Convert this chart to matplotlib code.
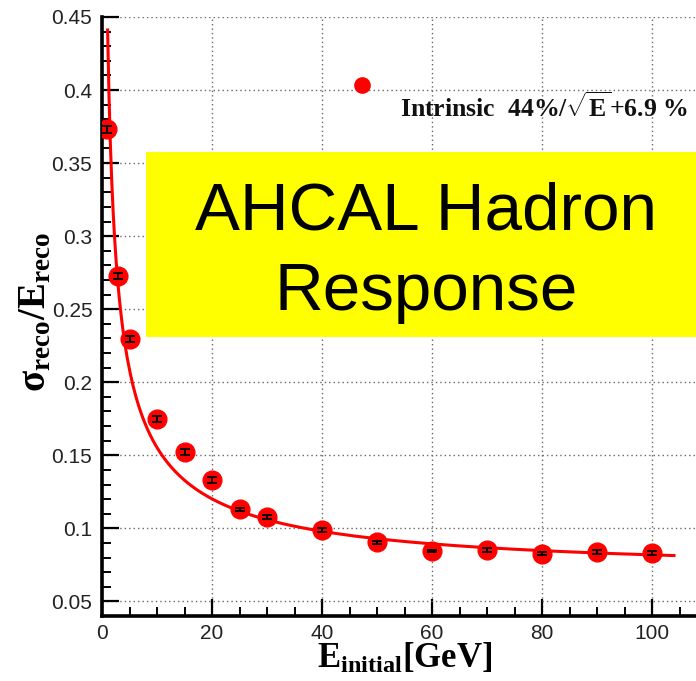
import numpy as np
import matplotlib
matplotlib.use("Agg")
import matplotlib.pyplot as plt
from matplotlib.patches import Rectangle
from matplotlib.ticker import MultipleLocator

# Energy resolution of reconstructed hadron showers
energy = [1, 3, 5, 10, 15, 20, 25, 30, 40, 50, 60, 70, 80, 90, 100]
resolution = [0.373, 0.2725, 0.2295, 0.175, 0.152, 0.133, 0.113, 0.1078,
              0.0988, 0.0905, 0.0845, 0.085, 0.0825, 0.0838, 0.083]
resolution_err = [0.0025, 0.002, 0.002, 0.002, 0.002, 0.002, 0.001, 0.0015,
                  0.0015, 0.001, 0.001, 0.0015, 0.001, 0.0015, 0.0015]

# Fit parameters: stochastic and constant terms (added in quadrature)
stochastic = 0.44
constant = 0.069
fit_range = [1.02, 104.0]

x_ticks = [0, 20, 40, 60, 80, 100]
y_ticks = [0.05, 0.1, 0.15, 0.2, 0.25, 0.3, 0.35, 0.4, 0.45]

plt.rcParams["mathtext.fontset"] = "custom"
plt.rcParams["mathtext.rm"] = "Liberation Serif:bold"
plt.rcParams["mathtext.bf"] = "Liberation Serif:bold"
plt.rcParams["mathtext.it"] = "Liberation Serif:bold"

fig = plt.figure(figsize=(6.96, 6.81), dpi=100)
ax = fig.add_axes([102 / 696, 65 / 681, 605 / 696, 599 / 681])
ax.set_xlim(0, 110)
ax.set_ylim(0.04, 0.45)

# ROOT-like frame: only left and bottom axes, ticks pointing inward
for side in ("top", "right"):
    ax.spines[side].set_visible(False)
for side in ("left", "bottom"):
    ax.spines[side].set_linewidth(2.6)
ax.xaxis.set_major_locator(MultipleLocator(20))
ax.xaxis.set_minor_locator(MultipleLocator(5))
ax.yaxis.set_major_locator(MultipleLocator(0.05))
ax.yaxis.set_minor_locator(MultipleLocator(0.01))
ax.set_xticks(x_ticks)
ax.set_yticks(y_ticks)
ax.set_xticklabels([str(v) for v in x_ticks])
ax.set_yticklabels([f"{v:g}" for v in y_ticks])
ax.tick_params(which="major", direction="in", length=12, width=1.6,
               labelsize=15, pad=7, top=False, right=False)
ax.tick_params(which="minor", direction="in", length=6.5, width=1.4,
               top=False, right=False)
for lbl in ax.get_xticklabels() + ax.get_yticklabels():
    lbl.set_fontfamily("Liberation Sans")
    lbl.set_color("#222222")
ax.tick_params(axis="x", pad=6)

ax.grid(True, which="major", color="#666666", linestyle=(0, (1.0, 2.2)),
        linewidth=1.0)
ax.set_axisbelow(True)

# Fit curve
e_fit = np.linspace(fit_range[0], fit_range[1], 400)
res_fit = np.sqrt(stochastic ** 2 / e_fit + constant ** 2)
ax.plot(e_fit, res_fit, color="red", linewidth=2.2, zorder=3)

# Measured points with error bars
ax.plot(energy, resolution, linestyle="none", marker="o", markersize=13.5,
        color="red", zorder=4)
ax.errorbar(energy, resolution, yerr=resolution_err, fmt="none",
            ecolor="black", elinewidth=1.3, capsize=3.5, capthick=1.3,
            zorder=5)

# Legend entry
ax.plot([0.43], [0.8865], transform=ax.transAxes, marker="o", markersize=11,
        color="red", linestyle="none", clip_on=False, zorder=6)
ax.text(0.4926, 0.833,
        r"Intrinsic  44%/$\sqrt{\mathrm{E}}$+6.9 %",
        transform=ax.transAxes, ha="left", va="baseline",
        fontsize=18.5, fontweight="bold", family="Liberation Serif",
        color="#111111", zorder=6)

# Axis titles
fig.text(317 / 696, (681 - 668) / 681,
         r"$\mathrm{E_{initial}}$[GeV]", ha="left", va="baseline",
         fontsize=25, fontweight="bold", family="Liberation Serif")
fig.text(36 / 696, (681 - 312) / 681,
         r"$\mathrm{\sigma_{reco}/E_{reco}}$", rotation=90,
         ha="center", va="center", fontsize=28, fontweight="bold",
         family="Liberation Serif")

# Title box
fig.patches.append(Rectangle((146 / 696, (681 - 337) / 681),
                             1.0, (337 - 152) / 681,
                             transform=fig.transFigure, facecolor="#ffff00",
                             edgecolor="none", zorder=10))
for line, base in (("AHCAL Hadron", 230), ("Response", 310)):
    fig.text(426 / 696, (681 - base) / 681, line, ha="center",
             va="baseline", fontsize=48.5, family="Liberation Sans",
             color="black", zorder=11)

fig.savefig("out.png", dpi=100)
